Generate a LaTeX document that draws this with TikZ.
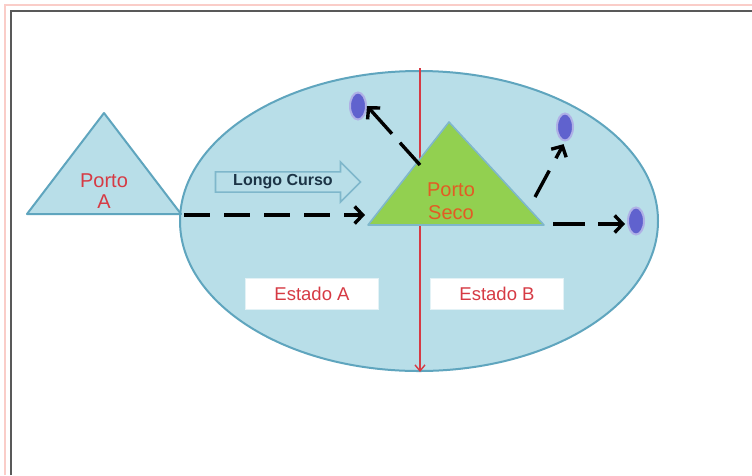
\documentclass[tikz,border=0pt]{standalone}
\usepackage{fontspec}
\setmainfont{Liberation Sans}
\usetikzlibrary{arrows.meta,shapes.geometric,shapes.arrows}
\definecolor{mar}{RGB}{184,222,232}
\definecolor{borda}{RGB}{95,165,190}
\definecolor{seco}{RGB}{146,208,80}
\definecolor{ponto}{RGB}{96,98,206}
\definecolor{vermelho}{RGB}{214,58,68}
\definecolor{laranja}{RGB}{226,92,36}
\definecolor{marinho}{RGB}{28,52,70}
\definecolor{rosa}{RGB}{250,205,200}

\begin{document}
\begin{tikzpicture}[x=1pt,y=-1pt,
  rota/.style={line width=3.4pt,dash pattern=on 26pt off 14pt,
    -{Straight Barb[length=8pt,width=17pt]}},
  pto/.style={ellipse,fill=ponto,draw=ponto!50,line width=2pt,
    minimum width=16pt,minimum height=27pt,inner sep=0pt},
  rotulo/.style={text=vermelho,font=\fontsize{20}{21}\selectfont,align=center},
  caixa/.style={fill=white,draw=mar!40,minimum width=133pt,minimum height=31pt}]
\useasboundingbox (0,0) rectangle (752,475);
\fill[white] (0,0) rectangle (752,475);
% frame
\draw[rosa,line width=1.5pt] (5,475) |- (752,5);
\draw[black!65,line width=1.5pt] (11,475) |- (752,11);
% region
\draw[borda,line width=2pt,fill=mar] (419,221) ellipse (239pt and 150pt);
\coordinate (fronteiraN) at (420,68);
\coordinate (fronteiraS) at (420,372);
\draw[vermelho,line width=1.4pt,-{Straight Barb[length=6pt,width=10pt]}] (fronteiraN) -- (fronteiraS);
% Porto A
\coordinate (paTopo) at (104,113);
\coordinate (paEsq) at (27,214);
\coordinate (paDir) at (181,214);
\draw[borda,line width=2pt,fill=mar,line join=round] (paTopo) -- (paEsq) -- (paDir) -- cycle;
\node[rotulo] (portoA) at (104,191) {Porto\\A};
% Porto Seco
\coordinate (psTopo) at (449,122);
\coordinate (psEsq) at (368,225);
\coordinate (psDir) at (544,225);
\draw[borda!80,line width=1.6pt,fill=seco,line join=round] (psTopo) -- (psEsq) -- (psDir) -- cycle;
\node[rotulo,text=laranja,font=\fontsize{20}{23}\selectfont] (portoSeco) at (451,201) {Porto\\Seco};
% Longo Curso
\node[single arrow,draw=borda!80,fill=mar,line width=1.6pt,minimum height=145pt,
  minimum width=40pt,single arrow head extend=10pt,inner sep=2pt,
  text=marinho,font=\bfseries\fontsize{16}{17}\selectfont] (longo) at (283,182) {Longo Curso};
% destinations
\node[pto] (dotNO) at (358,106) {};
\node[pto] (dotNE) at (565,127) {};
\node[pto] (dotL) at (636,221) {};
% states
\node[caixa,rotulo,font=\fontsize{18.5}{20}\selectfont] (estadoA) at (312,294) {Estado A};
\node[caixa,rotulo,font=\fontsize{18.5}{20}\selectfont] (estadoB) at (497,294) {Estado B};
% routes
\coordinate (saida) at (184,215);
\coordinate (chegada) at (365,215);
\coordinate (s1) at (420,165);
\coordinate (s2) at (535,197);
\coordinate (s3) at (553,224);
\draw[rota] (saida) -- (chegada);
\draw[rota,dash pattern=on 30pt off 12pt on 80pt] (s1) -- (dotNO.east);
\draw[rota,dash pattern=on 30pt off 14pt,shorten >=3pt] (s2) -- (dotNE.south);
\draw[rota,dash pattern=on 32pt off 13pt,shorten >=2pt] (s3) -- (s3 -| dotL.west);
\end{tikzpicture}
\end{document}
